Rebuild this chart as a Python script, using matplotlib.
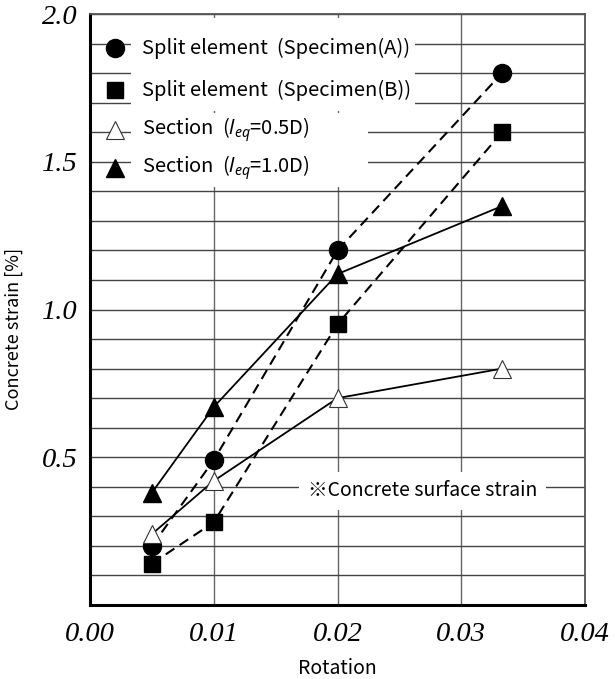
import matplotlib
matplotlib.use("Agg")
import matplotlib.pyplot as plt
from matplotlib.ticker import MultipleLocator
from matplotlib.patches import Rectangle

rotation = [0.005, 0.01, 0.02, 0.0333]
spec_a = [0.20, 0.49, 1.20, 1.80]
spec_b = [0.14, 0.28, 0.95, 1.60]
sec_05 = [0.24, 0.42, 0.70, 0.80]
sec_10 = [0.38, 0.67, 1.12, 1.35]

labels = ["Split element  (Specimen(A))",
          "Split element  (Specimen(B))",
          r"Section  ($\mathit{l}_{eq}$=0.5D)",
          r"Section  ($\mathit{l}_{eq}$=1.0D)"]
xticks = [0.00, 0.01, 0.02, 0.03, 0.04]
xtick_labels = ["0.00", "0.01", "0.02", "0.03", "0.04"]
yticks = [0.5, 1.0, 1.5, 2.0]
ytick_labels = ["0.5", "1.0", "1.5", "2.0"]
note = "※Concrete surface strain"

plt.rcParams['font.family'] = ['Noto Sans CJK KR', 'DejaVu Sans']
plt.rcParams['mathtext.fontset'] = 'custom'
plt.rcParams['mathtext.it'] = 'Noto Sans:italic'
plt.rcParams['mathtext.rm'] = 'Noto Sans'

fig = plt.figure(figsize=(6.15, 6.79), dpi=100)
ax = fig.add_axes([90/615, 1-605/679, 495/615, 591/679])

ax.set_xlim(0, 0.04)
ax.set_ylim(0, 2.0)

ax.yaxis.set_minor_locator(MultipleLocator(0.1))
ax.set_xticks(xticks)
ax.set_xticklabels(xtick_labels)
ax.set_yticks(yticks)
ax.set_yticklabels(ytick_labels)
ax.grid(True, which='both', axis='y', color='#444444', lw=1.0)
ax.grid(True, which='major', axis='x', color='#666666', lw=1.0)
ax.set_axisbelow(True)
ax.tick_params(which='both', length=0)
ax.tick_params(axis='x', pad=12)
ax.tick_params(axis='y', pad=9)
for lab in ax.get_xticklabels() + ax.get_yticklabels():
    lab.set_fontfamily('Liberation Serif')
    lab.set_fontstyle('italic')
    lab.set_fontsize(20.5)

for s in ['left', 'bottom']:
    ax.spines[s].set_linewidth(2.2)
    ax.spines[s].set_color('black')
for s in ['top', 'right']:
    ax.spines[s].set_linewidth(1.3)
    ax.spines[s].set_color('#555555')

dash = (0, (5, 3))
styles = [
    dict(ls=dash, lw=1.5, marker='o', ms=13, mfc='black', mec='black'),
    dict(ls=dash, lw=1.5, marker='s', ms=11.5, mfc='black', mec='black'),
    dict(ls='-', lw=1.3, marker='^', ms=13, mfc='white', mec='#333333', mew=0.8),
    dict(ls='-', lw=1.3, marker='^', ms=13, mfc='black', mec='black'),
]
for ys, st in zip([spec_a, spec_b, sec_05, sec_10], styles):
    ax.plot(rotation, ys, color='black', zorder=3, **st)

# legend (white text boxes covering the grid, like the original)
tr = ax.transAxes
ax.add_patch(Rectangle(((131-90)/495, (605-111)/591), (415-131)/495, (111-18)/591,
                       transform=tr, facecolor='white', edgecolor='none', zorder=4))
ax.add_patch(Rectangle(((131-90)/495, (605-187)/591), (368-131)/495, (187-113)/591,
                       transform=tr, facecolor='white', edgecolor='none', zorder=4))
row_y = [(605 - y) / 591 for y in (48, 90, 130, 168)]
for yy, lab, st in zip(row_y, labels, styles):
    st2 = {k: v for k, v in st.items() if k not in ('ls', 'lw')}
    ax.plot([0.0505], [yy], transform=tr, ls='None', clip_on=False, zorder=5, **st2)
    ax.text(0.105, yy, lab, transform=tr, fontsize=14.5, va='center', ha='left', zorder=5)

ax.text(0.0269, 0.386, note, fontsize=14, ha='center', va='center',
        bbox=dict(boxstyle='square,pad=0.45', facecolor='white', edgecolor='none'),
        zorder=4)

ax.set_xlabel("Rotation", fontsize=14, labelpad=8)
ax.set_ylabel("Concrete strain [%]", fontsize=13)
ax.yaxis.set_label_coords(-0.135, 0.467)

fig.savefig("out.png", dpi=100)
